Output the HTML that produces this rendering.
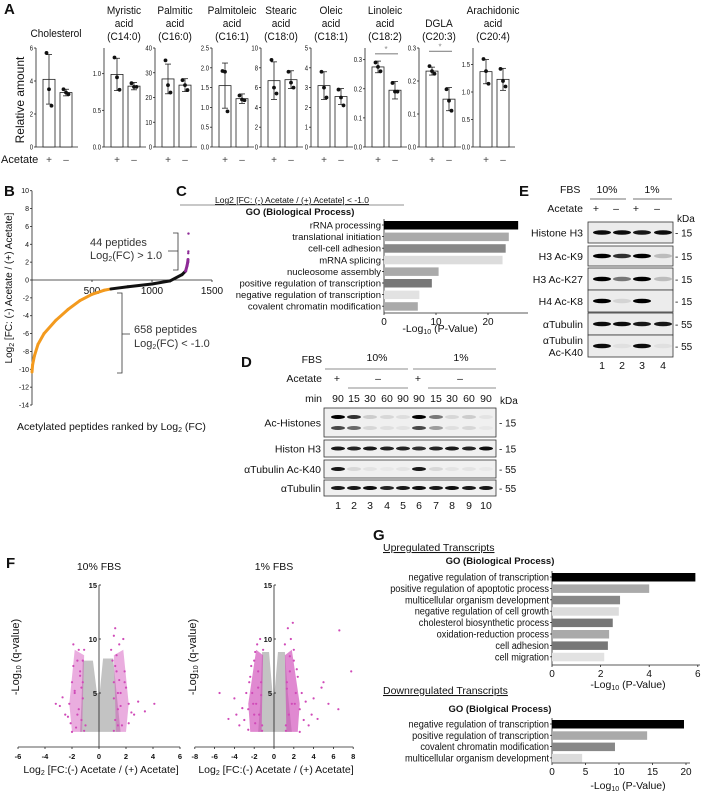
<!DOCTYPE html>
<html><head><meta charset="utf-8">
<style>
body{margin:0;background:#fff;}
svg{display:block;font-family:"Liberation Sans",sans-serif;}
</style></head>
<body>
<svg id="fig" width="703" height="795" viewBox="0 0 703 795" xmlns="http://www.w3.org/2000/svg"></svg>
<script>
// ---------- Panel A data ----------
const lipidTitles=[["Cholesterol"],["Myristic","acid","(C14:0)"],["Palmitic","acid","(C16:0)"],["Palmitoleic","acid","(C16:1)"],["Stearic","acid","(C18:0)"],["Oleic","acid","(C18:1)"],["Linoleic","acid","(C18:2)"],["DGLA","(C20:3)"],["Arachidonic","acid","(C20:4)"]];
const lipidMax=[6,1.35,40,2.5,10,5,0.34,0.3,1.8];
const lipidTicks=[[0,2,4,6],[0,0.5,1.0],[0,10,20,30,40],[0,0.5,1.0,1.5,2.0,2.5],[0,2,4,6,8,10],[0,1,2,3,4,5],[0,0.1,0.2,0.3],[0,0.1,0.2,0.3],[0,0.5,1.0,1.5]];
const lipidTickLabels=[["0","2","4","6"],["0.0","0.5","1.0"],["0","10","20","30","40"],["0.0","0.5","1.0","1.5","2.0","2.5"],["0","2","4","6","8","10"],["0","1","2","3","4","5"],["0.0","0.1","0.2","0.3"],["0.0","0.1","0.2","0.3"],["0.0","0.5","1.0","1.5"]];
const plusMean=[4.1,0.99,27.5,1.55,6.7,3.1,0.275,0.23,1.37];
const minusMean=[3.3,0.83,25,1.22,6.8,2.55,0.195,0.145,1.23];
const plusSD=[1.5,0.22,6,0.57,1.9,0.7,0.02,0.012,0.22];
const minusSD=[0.2,0.05,2.6,0.12,0.9,0.4,0.03,0.035,0.2];
const plusPts=[[5.7,3.5,2.5],[1.22,0.95,0.78],[35,25,22],[1.92,1.9,0.9],[8.8,6,5.4],[3.8,3,2.5],[0.29,0.275,0.26],[0.245,0.23,0.222],[1.6,1.38,1.15]];
const minusPts=[[3.5,3.3,3.2],[0.87,0.82,0.82],[27,25,23],[1.3,1.2,1.18],[7.6,6.5,6],[2.9,2.5,2.1],[0.22,0.19,0.19],[0.175,0.14,0.11],[1.42,1.2,1.1]];
const lipidSig=[null,null,null,null,null,null,0.32,0.29,null];
// ---------- Panel B data ----------
const peptideRank=[0,5,20,50,100,200,300,400,500,600,658,800,1000,1150,1250,1280,1292,1298,1300];
const peptideLog2FC=[-10.3,-9.5,-8.5,-7.2,-6,-4.5,-3.3,-2.3,-1.6,-1.15,-1,-0.75,-0.45,-0.1,0.6,1.0,1.6,2.0,2.3];
const peptideOutlierRank=[1302,1303,1304];
const peptideOutlierFC=[3.0,3.2,5.2];
// ---------- Panel C data ----------
const goC=["rRNA processing","translational initiation","cell-cell adhesion","mRNA splicing","nucleosome assembly","positive regulation of transcription","negative regulation of transcription","covalent chromatin modification"];
const goCVal=[25.8,24,23.4,22.8,10.5,9.2,6.8,6.5];
const goCShade=["#000","#aaa","#888","#dcdcdc","#aaa","#777","#e2e2e2","#aaa"];
// ---------- Panel G data ----------
const goUp=["negative regulation of transcription","positive regulation of apoptotic process","multicellular organism development","negative regulation of cell growth","cholesterol biosynthetic process","oxidation-reduction process","cell adhesion","cell migration"];
const goUpVal=[5.9,4.0,2.8,2.75,2.5,2.35,2.3,2.15];
const goUpShade=["#000","#aaa","#888","#dcdcdc","#777","#aaa","#777","#e2e2e2"];
const goDown=["negative regulation of transcription","positive regulation of transcription","covalent chromatin modification","multicellular organism development"];
const goDownVal=[19.7,14.2,9.4,4.5];
const goDownShade=["#000","#aaa","#888","#dcdcdc"];
// ---------- Panel F data (envelopes + pink points) ----------
const grayEnvX1=[-1.4,1.6,1.3,1.05,0.3,0.05,-0.15,-0.45,-1.2,-1.3];
const grayEnvY1=[1.4,1.4,5,8.2,8.2,5,5,8,8,4];
const pinkX1=[-1.1,-1.3,-1.5,-1.2,-1.8,-2.0,-2.2,-1.4,-1.6,-1.1,-2.5,-3.2,-1.9,-1.2,-1.0,-1.7,-2.1,-1.3,-2.3,-1.6,-1.9,-2.7,-1.5,-1.2,-2.0,-1.4,-2.9,-1.8,1.1,1.2,1.4,1.1,1.6,1.9,2.2,1.3,1.0,1.5,2.6,4.1,1.8,1.2,1.1,1.4,0.9,2.0,1.7,1.2,2.4,1.3,1.6,2.9,1.5,1.9,1.1,3.4,2.2,1.4];
const pinkY1=[1.5,2.5,3.5,4.5,5,6,4,7,8,9,3,4,9.5,6,2,1.8,2.2,5.5,2.8,3,7.5,4.6,9,8,1.4,6.6,3.8,5.2,1.5,2.5,3.5,4.5,5,6,4,7,8,9.5,3,4,10,11,6,2,9,5.5,2,7.5,3.2,8.5,3.8,4.2,6.2,7,10.3,3.3,2.2,5];
const grayEnvX2=[-1.6,1.8,1.4,1.1,0.4,0.05,-0.15,-0.5,-1.2,-1.4];
const grayEnvY2=[1.4,1.4,5,8.8,8.8,5,5,8.8,8.8,4];
const pinkX2=[-1.2,-1.5,-1.8,-2.2,-2.6,-3.0,-3.5,-1.3,-1.6,-2.0,-1.1,-2.4,-4.0,-5.5,-1.4,-1.9,-2.8,-1.2,-1.7,-2.1,-2.3,-3.2,-1.6,-2.6,-1.9,-4.6,-1.3,-2.0,-3.8,-2.5,1.2,1.5,1.8,2.2,2.6,3.0,3.5,1.3,1.6,2.0,1.1,2.4,4.0,4.8,5.5,6.5,7.8,1.4,1.9,2.8,1.2,1.7,2.1,3.8,6.6,2.3,3.2,1.6,2.6,4.4,1.3,2.0,5.0];
const pinkY2=[2,3,4,5,3.5,2.5,2,6,7,8,9,6.5,4.5,5,10,2.2,5,1.5,9.5,4,7.5,3.6,5.5,1.6,8.8,2.6,4.8,3,3,6,2,3,4,5,3.5,2.5,2,6,7,8,9.5,6.5,4.5,5.5,4,3.5,7,11,11.5,5,1.5,10,4,3,10.8,7.2,4.2,8.4,1.4,2.6,5.4,9,6];

const svg=document.getElementById('fig');
const NS="http://www.w3.org/2000/svg";
function mk(tag,attrs,parent){const e=document.createElementNS(NS,tag);for(const k in attrs)e.setAttribute(k,attrs[k]);(parent||svg).appendChild(e);return e;}
function txt(x,y,s,size,anchor,parent,extra,sx){
  const a=Object.assign({'font-size':size,'text-anchor':anchor||'start',fill:'#111'},extra||{});
  sx=sx||1;
  if(a.transform){a.transform=a.transform+' scale('+sx+',1)';a.x=0;a.y=0;}
  else if(sx!==1){a.transform='translate('+x+','+y+') scale('+sx+',1)';a.x=0;a.y=0;}
  else{a.x=x;a.y=y;}
  const e=mk('text',a,parent);e.textContent=s;return e;}
function line(x1,y1,x2,y2,parent,w,c){return mk('line',{x1:x1,y1:y1,x2:x2,y2:y2,stroke:c||'#222','stroke-width':w||0.8},parent);}

// Panel letters
[["A",4,14],["B",4,196],["C",176,196],["D",241,367],["E",519,196],["F",6,568],["G",373,540]].forEach(p=>{
  const t=txt(p[1],p[2],p[0],15,'start',svg,{'font-weight':'bold'});
  
  
});

// ---------- Panel A ----------
const gA=mk('g',{});


const axisXA=[36,104,155,212,261,311,365,419,473];
const yTopA=48,yBotA=147;
const yl=txt(0,0,"Relative amount",12,'middle',gA,{transform:'translate(24,100) rotate(-90)'});


const acl=txt(1,163,"Acetate",11,'start',gA);


for(let i=0;i<9;i++){
  const g=mk('g',{},gA);
  
  
  const ax=axisXA[i];
  const ys=v=>yBotA-(v/lipidMax[i])*(yBotA-yTopA);
  line(ax,yTopA,ax,yBotA,g);
  line(ax,yBotA,ax+42,yBotA,g);
  lipidTicks[i].forEach((t,j)=>{line(ax-2,ys(t),ax,ys(t),g);txt(ax-3,ys(t)+2.5,lipidTickLabels[i][j],7,'end',g,null,0.85);});
  const tl=lipidTitles[i];const n=tl.length;
  tl.forEach((s,k)=>{txt(ax+20,(i==0?37:40)-(n-1-k)*13,s,11,'middle',g,null,0.92);});
  const means=[plusMean[i],minusMean[i]],sds=[plusSD[i],minusSD[i]],pts=[plusPts[i],minusPts[i]];
  for(let b=0;b<2;b++){
    const bx=ax+7+b*17,cx=bx+6;
    const r=mk('rect',{x:bx,y:ys(means[b]),width:12,height:yBotA-ys(means[b]),fill:'#fff',stroke:'#222','stroke-width':0.8},g);
    
    
    line(cx,ys(means[b]-sds[b]),cx,ys(Math.min(means[b]+sds[b],lipidMax[i])),g);
    line(cx-3,ys(means[b]+sds[b]),cx+3,ys(means[b]+sds[b]),g);
    line(cx-3,ys(means[b]-sds[b]),cx+3,ys(means[b]-sds[b]),g);
    pts[b].forEach((v,k)=>{const c=mk('circle',{cx:cx+(k-1)*2.5,cy:ys(v),r:1.9,fill:'#111'},g);});
    txt(cx,163,b?"–":"+",10,'middle',g,{fill:'#444'});
  }
  if(lipidSig[i]!==null){line(ax+10,ys(lipidSig[i]),ax+33,ys(lipidSig[i]),g,1.2,'#888');txt(ax+21,ys(lipidSig[i])-2,"*",8,'middle',g,{fill:'#888'});}
}

// ---------- Panel B ----------
const gB=mk('g',{});


const bx0=32,bY0=280,bPerY=8.93,bPerX=60/500;
const bX=r=>bx0+r*bPerX, bY=v=>bY0-v*bPerY;
line(bx0,bY(10),bx0,bY(-14),gB);
line(bx0,bY0,bX(1500),bY0,gB);
[10,8,6,4,2,0,-2,-4,-6,-8,-10,-12,-14].forEach(t=>{line(bx0-2,bY(t),bx0,bY(t),gB);txt(bx0-3,bY(t)+2.5,String(t),7,'end',gB);});
[500,1000,1500].forEach(t=>{line(bX(t),bY0,bX(t),bY0+2,gB);txt(bX(t),bY0+14,String(t),10,'middle',gB);});
for(let k=0;k<peptideRank.length-1;k++){
  const m=(peptideLog2FC[k]+peptideLog2FC[k+1])/2;
  const col=m<=-1?'#f39a1e':(m>=1?'#8e2a97':'#111');
  const s=line(bX(peptideRank[k]),bY(peptideLog2FC[k]),bX(peptideRank[k+1]),bY(peptideLog2FC[k+1]),gB,3,col);
  s.setAttribute('stroke-linecap','round');
  
  
}
peptideOutlierRank.forEach((r,k)=>{const c=mk('circle',{cx:bX(r),cy:bY(peptideOutlierFC[k]),r:1.2,fill:'#8e2a97'},gB);});
mk('path',{d:'M173,233 H178 V270 H173 M178,251 H168',fill:'none',stroke:'#333','stroke-width':0.8},gB);
txt(90,246,"44 peptides",11,'start',gB,{fill:'#333'});
const l1=txt(90,259,"",11,'start',gB,{fill:'#333'});l1.innerHTML='Log<tspan font-size="7" dy="2">2</tspan><tspan dy="-2">(FC) &gt; 1.0</tspan>';
mk('path',{d:'M117,293 H122 V373 H117 M122,334 H130',fill:'none',stroke:'#333','stroke-width':0.8},gB);
txt(134,333,"658 peptides",11,'start',gB,{fill:'#333'});
const l2=txt(134,347,"",11,'start',gB,{fill:'#333'});l2.innerHTML='Log<tspan font-size="7" dy="2">2</tspan><tspan dy="-2">(FC) &lt; -1.0</tspan>';
const byt=txt(0,0,"",10,'middle',gB,{transform:'translate(12,288) rotate(-90)'});
byt.innerHTML='Log<tspan font-size="7" dy="2">2</tspan><tspan dy="-2"> [FC: (-) Acetate / (+) Acetate]</tspan>';


const bxt=txt(17,430,"",10.5,'start',gB);
bxt.innerHTML='Acetylated peptides ranked by Log<tspan font-size="7" dy="2">2</tspan><tspan dy="-2"> (FC)</tspan>';



// ---------- horizontal GO bar helper ----------
function goBars(g,labels,vals,shades,ax,y0,step,perUnit,ticks,axisY,axisEnd,titleY,titleX,fs,sx){
  line(ax,y0-6,ax,axisY,g);
  line(ax,axisY,axisEnd,axisY,g);
  labels.forEach((s,k)=>{
    const y=y0+k*step;
    const r=mk('rect',{x:ax,y:y-4,width:vals[k]*perUnit,height:8.5,fill:shades[k]},g);
    
    
    line(ax-2,y,ax,y,g);
    txt(ax-3,y+3.5,s,fs,'end',g,null,sx);
  });
  ticks.forEach(t=>{line(ax+t*perUnit,axisY,ax+t*perUnit,axisY+2,g);txt(ax+t*perUnit,axisY+12,String(t),10,'middle',g);});
  const tt=txt(titleX,titleY,"",10.5,'middle',g);
  tt.innerHTML='-Log<tspan font-size="7" dy="2">10</tspan><tspan dy="-2"> (P-Value)</tspan>';
}

// ---------- Panel C ----------
const gC=mk('g',{});


const ct=txt(292,203,"",8.5,'middle',gC,{'text-decoration':'underline'});
ct.innerHTML='Log2 [FC: (-) Acetate / (+) Acetate] &lt; -1.0';
line(180,205,404,205,gC,0.6);
txt(300,215,"GO (Biological Process)",9.5,'middle',gC,{'font-weight':'bold'});
goBars(gC,goC,goCVal,goCShade,384,225,11.6,5.2,[0,10,20],313,528,332,440,9.5,1);

// ---------- Panel G ----------
const gG=mk('g',{});


txt(383,551,"Upregulated Transcripts",10.5,'start',gG,{'text-decoration':'underline'});
txt(500,564,"GO (Biological Process)",9.5,'middle',gG,{'font-weight':'bold'});
goBars(gG,goUp,goUpVal,goUpShade,552,577,11.4,24.3,[0,2,4,6],665,700,688,628,10,0.92);
txt(383,694,"Downregulated Transcripts",10.5,'start',gG,{'text-decoration':'underline'});
txt(500,712,"GO (Biolgical Process)",9.5,'middle',gG,{'font-weight':'bold'});
goBars(gG,goDown,goDownVal,goDownShade,552,724,11.3,6.7,[0,5,10,15,20],763,690,789,628,10,0.92);

// ---------- Panel D (western blot) ----------
const gD=mk('g',{});


const laneD=[338,354,370,387,403,419,436,452,469,486];
const dHdr=[["FBS",363],["Acetate",382],["min",402]];
dHdr.forEach(h=>txt(322,h[1],h[0],10.5,'end',gD));
txt(377,361,"10%",10.5,'middle',gD);txt(461,361,"1%",10.5,'middle',gD);
line(325,369,408,369,gD,0.8,'#666');line(413,369,496,369,gD,0.8,'#666');
txt(337,382,"+",10.5,'middle',gD);txt(378,382,"–",10.5,'middle',gD);txt(418,382,"+",10.5,'middle',gD);txt(460,382,"–",10.5,'middle',gD);
line(348,388,408,388,gD,0.8,'#666');line(428,388,496,388,gD,0.8,'#666');
const minD=["90","15","30","60","90","90","15","30","60","90"];
minD.forEach((m,k)=>{txt(laneD[k],402,m,10.5,'middle',gD);txt(laneD[k],509,String(k+1),10.5,'middle',gD);});
txt(500,404,"kDa",10,'start',gD);
const blotD=[["Ac-Histones",408,437,"15"],["Histon H3",440,457,"15"],["αTubulin Ac-K40",460,478,"55"],["αTubulin",480,496,"55"]];
const intenD=[[1,0.8,0.15,0.1,0.08,1,0.5,0.1,0.15,0.05],[0.9,0.85,0.9,0.85,0.85,0.8,0.85,0.9,0.85,0.95],[0.9,0.1,0.05,0.03,0.05,0.9,0.1,0.05,0.05,0.03],[0.9,0.9,0.95,0.85,0.9,0.95,0.9,0.95,0.9,0.9]];
blotD.forEach((b,k)=>{
  const bg=mk('rect',{x:324,y:b[1],width:172,height:b[2]-b[1],fill:'#f0f0f0',stroke:'#333','stroke-width':0.8},gD);
  
  
  txt(321,(b[1]+b[2])/2+4,b[0],10.5,'end',gD);
  txt(499,(b[1]+b[2])/2+4,"- "+b[3],10,'start',gD);
  const rows=k==0?[b[1]+9,b[1]+20]:[(b[1]+b[2])/2];
  rows.forEach((ry,ri)=>laneD.forEach((lx,l)=>{
    const v=intenD[k][l]*(ri?0.7:1);
    const e=mk('ellipse',{cx:lx,cy:ry,rx:7,ry:2,fill:'#000','fill-opacity':v},gD);
    
    
  }));
});

// ---------- Panel E (western blot) ----------
const gE=mk('g',{});


const laneE=[602,622,642,663];
txt(560,193,"FBS",10.5,'start',gE);txt(607,193,"10%",10.5,'middle',gE);txt(652,193,"1%",10.5,'middle',gE);
line(590,199,626,199,gE,0.8,'#444');line(633,199,672,199,gE,0.8,'#444');
txt(583,212,"Acetate",10.5,'end',gE);
["+","–","+","–"].forEach((s,k)=>txt(laneE[k]-6,212,s,10.5,'middle',gE));
txt(677,222,"kDa",10,'start',gE);
const blotE=[["Histone H3",222,243,"15"],["H3 Ac-K9",246,266,"15"],["H3 Ac-K27",268,290,"15"],["H4 Ac-K8",290,312,"15"],["αTubulin",313,335,"55"],["αTubulin|Ac-K40",335,357,"55"]];
const intenE=[[0.95,0.95,0.9,0.95],[1,0.8,1,0.2],[1,0.5,1,0.2],[1,0.1,1,0],[0.95,0.95,0.9,0.9],[0.95,0.05,0.95,0.05]];
blotE.forEach((b,k)=>{
  const bg=mk('rect',{x:588,y:b[1],width:85,height:b[2]-b[1],fill:'#ececec',stroke:'#333','stroke-width':0.8},gE);
  
  
  const parts=b[0].split('|');
  parts.forEach((p,j)=>txt(583,(b[1]+b[2])/2+4+(parts.length>1?(j?6:-6):0),p,10.5,'end',gE));
  txt(675,(b[1]+b[2])/2+4,"- "+b[3],10,'start',gE);
  laneE.forEach((lx,l)=>{
    const e=mk('ellipse',{cx:lx,cy:(b[1]+b[2])/2,rx:9,ry:2.3,fill:'#000','fill-opacity':intenE[k][l]},gE);
    
    
  });
});
laneE.forEach((lx,k)=>txt(lx,369,String(k+1),10.5,'middle',gE));

// ---------- Panel F volcano plots ----------
function volcano(name,title,ax,x0,perX,xr,ticks,envX,envY,px,py,bandW,bandOp){
  const g=mk('g',{});
  
  
  const yS=v=>747-v*10.8, xS=v=>ax+v*perX;
  txt(ax,570,title,10.5,'middle',g);
  const poly=mk('polygon',{points:envX.map((x,k)=>xS(x)+','+yS(envY[k])).join(' '),fill:'#c3c3c3'},g);
  
  
  [-1,1].forEach(d=>{
    const p=mk('polygon',{points:[[d*1.25,1.4],[d*bandW,1.4],[d*(bandW+0.2),4],[d*1.8,9],[d*1.1,8.5],[d*1.2,4]].map(q=>xS(q[0])+','+yS(q[1])).join(' '),fill:'#d04ab8','fill-opacity':bandOp},g);
    
    
  });
  px.forEach((x,k)=>{
    const c=mk('circle',{cx:xS(x),cy:yS(py[k]),r:1.1,fill:'#d04ab8'},g);
    
    
  });
  line(ax,yS(15),ax,747,g);
  line(xS(-xr),747,xS(xr),747,g);
  [5,10,15].forEach(t=>{line(ax,yS(t),ax+2,yS(t),g);txt(ax-2,yS(t)+3,String(t),7.5,'end',g,{'font-weight':'bold'});});
  ticks.forEach(t=>{line(xS(t),747,xS(t),749,g);txt(xS(t),759,String(t),7.5,'middle',g,{'font-weight':'bold'});});
  const xt=txt(ax+2,773,"",10.5,'middle',g);
  xt.innerHTML='Log<tspan font-size="7" dy="2">2</tspan><tspan dy="-2"> [FC:(-) Acetate / (+) Acetate]</tspan>';
  const yt=txt(0,0,"",11,'middle',g,{transform:'translate('+(x0)+',657) rotate(-90)'});
  yt.innerHTML='-Log<tspan font-size="7" dy="2">10</tspan><tspan dy="-2"> (q-value)</tspan>';
}
volcano('volcano-10-fbs','10% FBS',99,19,13.5,6,[-6,-4,-2,0,2,4,6],grayEnvX1,grayEnvY1,pinkX1,pinkY1,2.0,0.45);
volcano('volcano-1-fbs','1% FBS',274,196,9.9,8,[-8,-6,-4,-2,0,2,4,6,8],grayEnvX2,grayEnvY2,pinkX2,pinkY2,2.4,0.65);
</script>
</body></html>
